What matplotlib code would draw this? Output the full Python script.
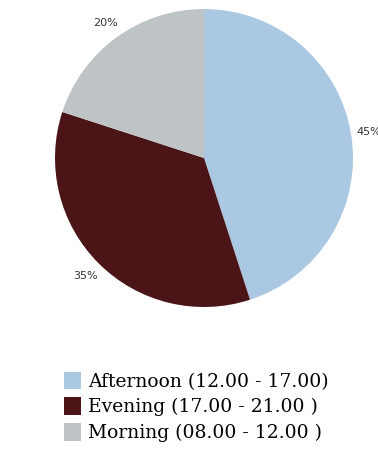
import matplotlib
matplotlib.use("Agg")
import matplotlib.pyplot as plt
from matplotlib.patches import Patch

# Share of visits by time of day
labels = ["Afternoon (12.00 - 17.00)", "Evening (17.00 - 21.00 )", "Morning (08.00 - 12.00 )"]
shares = [45, 35, 20]
colors = ["#abc8e2", "#4b1517", "#bec3c6"]

fig = plt.figure(figsize=(3.78, 4.51), dpi=100)
ax = fig.add_axes([55 / 378, 144 / 451, 298 / 378, 298 / 451])

wedges, texts = ax.pie(
    shares,
    colors=colors,
    labels=[f"{s}%" for s in shares],
    startangle=90,
    counterclock=False,
    labeldistance=1.12,
    textprops={"fontsize": 8, "color": "#333333", "family": "DejaVu Sans"},
)
for t in texts:
    t.set_horizontalalignment("center")
ax.set_xlim(-1, 1)
ax.set_ylim(-1, 1)
ax.set_aspect("equal")

handles = [Patch(facecolor=c, edgecolor="none") for c in colors]
fig.legend(
    handles, labels,
    loc="upper left",
    bbox_to_anchor=(56 / 378, 1 - 364 / 451),
    frameon=False,
    prop={"family": "DejaVu Serif", "size": 13.5},
    handlelength=0.95,
    handleheight=1.05,
    handletextpad=0.38,
    labelspacing=0.36,
    borderaxespad=0,
)

fig.savefig("out.png", dpi=100)
